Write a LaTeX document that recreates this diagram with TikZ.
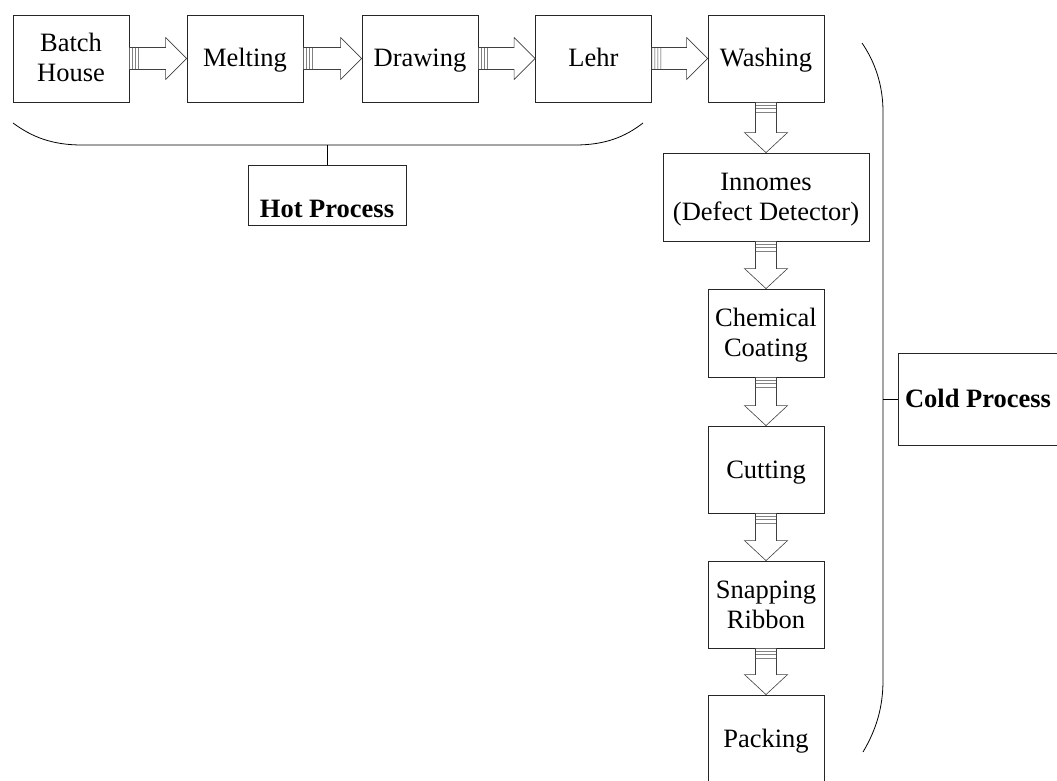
\documentclass[tikz,border=0pt]{standalone}
\usepackage{fontspec}
\setmainfont{Liberation Serif}
\usetikzlibrary{calc}
\newcommand\mys{\rule[-6.5pt]{0pt}{30pt}}
\tikzset{
  box/.style={draw=black!85, line width=0.8pt, minimum width=116pt, minimum height=87pt, inner sep=0pt, align=center, font=\fontsize{26.5}{30}\selectfont},
  labelbox/.style={box, font=\fontsize{26.5}{30}\selectfont\bfseries},
  arr/.style={draw=black!85, line width=0.8pt, fill=white},
  stub/.style={draw=black!75, line width=0.6pt},
  brace/.style={draw=black, line width=0.8pt}
}
\newcommand\harr[2]{%
  \path let \p1=(#1.east), \p2=(#2.west) in
    [arr] (\x1+9pt,\y1+11pt) -- (\x2-21pt,\y1+11pt) -- (\x2-21pt,\y1+21pt) -- (\x2,\y1)
      -- (\x2-21pt,\y1-21pt) -- (\x2-21pt,\y1-11pt) -- (\x1+9pt,\y1-11pt) -- cycle
    [stub] (\x1,\y1-11pt) rectangle (\x1+9pt,\y1+11pt)
    (\x1+3pt,\y1-11pt) -- (\x1+3pt,\y1+11pt)
    (\x1+6pt,\y1-11pt) -- (\x1+6pt,\y1+11pt);
}
\newcommand\varr[2]{%
  \path let \p1=(#1.south), \p2=(#2.north) in
    [arr] (\x1-10.5pt,\y1-10pt) -- (\x1-10.5pt,\y2+20pt) -- (\x1-21.5pt,\y2+20pt) -- (\x1,\y2)
      -- (\x1+21.5pt,\y2+20pt) -- (\x1+10.5pt,\y2+20pt) -- (\x1+10.5pt,\y1-10pt) -- cycle
    [stub] (\x1-10.5pt,\y1) rectangle (\x1+10.5pt,\y1-10pt)
    (\x1-10.5pt,\y1-3pt) -- (\x1+10.5pt,\y1-3pt)
    (\x1-10.5pt,\y1-6pt) -- (\x1+10.5pt,\y1-6pt);
}
\begin{document}
\begin{tikzpicture}[x=1pt,y=-1pt]
\useasboundingbox (0,0) rectangle (1057,781);
% top row
\node[box] (batch) at (71,58.5) {\mys Batch\\\mys House};
\node[box] (melt) at (245,58.5) {\mys Melting};
\node[box] (draw) at (420,58.5) {\mys Drawing};
\node[box] (lehr) at (593.5,58.5) {\mys Lehr};
\node[box] (wash) at (766,58.5) {\mys Washing};
% column
\node[box, minimum width=206pt, minimum height=88pt] (inno) at (766,197) {\mys Innomes\\\mys (Defect Detector)};
\node[box, minimum height=88pt] (chem) at (766,333) {\mys Chemical\\\mys Coating};
\node[box] (cut) at (766,469.5) {\mys Cutting};
\node[box] (snap) at (766,604.5) {\mys Snapping\\\mys Ribbon};
\node[box, minimum height=88pt] (pack) at (766,739) {\mys Packing};
% arrows
\harr{batch}{melt}
\harr{melt}{draw}
\harr{draw}{lehr}
\harr{lehr}{wash}
\varr{wash}{inno}
\varr{inno}{chem}
\varr{chem}{cut}
\varr{cut}{snap}
\varr{snap}{pack}
% hot process
\node[labelbox, minimum width=158pt, minimum height=60pt] (hot) at (327,195) {\rule[-3pt]{0pt}{50pt}Hot Process};
\draw[brace] (13,123) .. controls (32,137) and (52,145) .. (82,145) -- (575,145)
  .. controls (605,145) and (625,137) .. (643,123);
\coordinate (hottick) at (hot.north |- 0,145);
\draw[brace] (hottick) -- (hot.north);
% cold process
\node[labelbox, minimum width=160pt, minimum height=92pt] (cold) at (978,399) {\mys Cold Process};
\draw[brace] (862,43) .. controls (875,62) and (883,85) .. (883,112) -- (883,680)
  .. controls (883,708) and (876,730) .. (863,752);
\coordinate (coldtick) at (883,0 |- cold.west);
\draw[brace] (coldtick) -- (cold.west);
\end{tikzpicture}
\end{document}
